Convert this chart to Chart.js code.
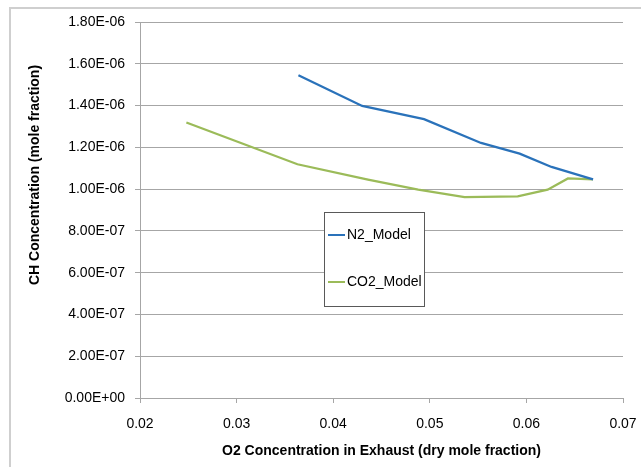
<!DOCTYPE html>
<html>
<head>
<meta charset="utf-8">
<script src="https://cdn.jsdelivr.net/npm/chart.js@4.4.1/dist/chart.umd.min.js"></script>
<style>
  html, body { margin: 0; padding: 0; background: #fff; }
  #wrap { width: 641px; height: 467px; position: relative; }
</style>
</head>
<body>
<div id="wrap"><canvas id="myChart" width="641" height="467"></canvas></div>
<script>
// data
var n2X = [0.0364, 0.0430, 0.0494, 0.0553, 0.0593, 0.0626, 0.0669];
var n2Y = [1.545e-6, 1.398e-6, 1.335e-6, 1.221e-6, 1.170e-6, 1.106e-6, 1.047e-6];
var co2X = [0.0248, 0.0363, 0.0436, 0.0488, 0.0536, 0.0591, 0.0622, 0.0643, 0.0669];
var co2Y = [1.319e-6, 1.119e-6, 1.045e-6, 0.997e-6, 0.962e-6, 0.965e-6, 0.997e-6, 1.051e-6, 1.047e-6];
var seriesNames = ['N2_Model', 'CO2_Model'];
var seriesColors = ['#2a72ba', '#9bbb59'];

var xTitle = 'O2 Concentration in Exhaust (dry mole fraction)';
var yTitle = 'CH Concentration (mole fraction)';

function pts(xs, ys) {
    var out = [];
    for (var i = 0; i < xs.length; i++) out.push({ x: xs[i], y: ys[i] });
    return out;
}

// 1.8e-6 -> "1.80E-06"
function sci(v) {
    if (Math.abs(v) < 1e-15) return '0.00E+00';
    var s = v.toExponential(2).toUpperCase();
    var parts = s.split('E');
    var sign = parts[1].charAt(0);
    var exp = parts[1].substring(1);
    if (exp.length < 2) exp = '0' + exp;
    return parts[0] + 'E' + sign + exp;
}

var fontFam = "'Liberation Sans', Arial, sans-serif";
var gridColor = '#a6a6a6';

// outer frame, y title and legend box drawn on top
var extras = {
    id: 'extras',
    afterDraw: function (chart) {
        var c = chart.ctx;
        c.save();
        c.strokeStyle = '#cfcfcf';
        c.lineWidth = 2;
        c.beginPath();
        c.moveTo(10, 470);
        c.lineTo(10, 8);
        c.lineTo(645, 8);
        c.stroke();

        // y title
        c.fillStyle = '#000';
        c.font = 'bold 14px ' + fontFam;
        c.textAlign = 'center';
        c.textBaseline = 'middle';
        c.translate(35, 175);
        c.rotate(-Math.PI / 2);
        c.fillText(yTitle, 0, 0);
        c.restore();

        // legend box
        c.save();
        c.fillStyle = '#fff';
        c.fillRect(324, 212, 100, 94);
        c.strokeStyle = '#595959';
        c.lineWidth = 1;
        c.strokeRect(324.5, 212.5, 100, 94);
        var ys = [235, 282];
        c.font = '14px ' + fontFam;
        c.textAlign = 'left';
        c.textBaseline = 'middle';
        chart.data.datasets.forEach(function (ds, i) {
            c.strokeStyle = ds.borderColor;
            c.lineWidth = 2;
            c.beginPath();
            c.moveTo(328, ys[i]);
            c.lineTo(345, ys[i]);
            c.stroke();
            c.fillStyle = '#000';
            c.fillText(ds.label, 347, ys[i]);
        });
        c.restore();
    }
};

var ctx = document.getElementById('myChart').getContext('2d');
var myChart = new Chart(ctx, {
    type: 'scatter',
    data: {
        datasets: [{
            label: seriesNames[0],
            data: pts(n2X, n2Y),
            borderColor: seriesColors[0],
            backgroundColor: seriesColors[0],
            showLine: true,
            borderWidth: 2.3,
            pointRadius: 0,
            tension: 0
        }, {
            label: seriesNames[1],
            data: pts(co2X, co2Y),
            borderColor: seriesColors[1],
            backgroundColor: seriesColors[1],
            showLine: true,
            borderWidth: 2.3,
            pointRadius: 0,
            tension: 0
        }]
    },
    options: {
        responsive: false,
        animation: false,
        layout: { padding: { left: 0, top: 22, right: 18, bottom: 0 } },
        plugins: {
            legend: { display: false },
            tooltip: { enabled: false }
        },
        scales: {
            x: {
                type: 'linear',
                min: 0.02,
                max: 0.07,
                afterFit: function (s) {
                    s.height = 69;
                    s.paddingLeft = 0;
                    s.paddingRight = 0;
                },
                ticks: {
                    stepSize: 0.01,
                    padding: 13,
                    color: '#000',
                    font: { family: fontFam, size: 14 },
                    callback: function (v) { return v.toFixed(2); }
                },
                grid: { drawOnChartArea: false, drawTicks: true, tickLength: 5, color: gridColor },
                border: { color: gridColor },
                title: {
                    display: true,
                    text: xTitle,
                    color: '#000',
                    font: { family: fontFam, size: 14, weight: 'bold' },
                    padding: { top: 0, bottom: 7 }
                }
            },
            y: {
                type: 'linear',
                min: 0,
                max: 1.8e-6,
                afterFit: function (s) { s.width = 140; },
                ticks: {
                    stepSize: 2e-7,
                    padding: 10,
                    color: '#000',
                    font: { family: fontFam, size: 14 },
                    callback: function (v) { return sci(v); }
                },
                grid: { color: gridColor, tickLength: 5 },
                border: { color: gridColor }
            }
        }
    },
    plugins: [extras]
});
</script>
</body>
</html>
